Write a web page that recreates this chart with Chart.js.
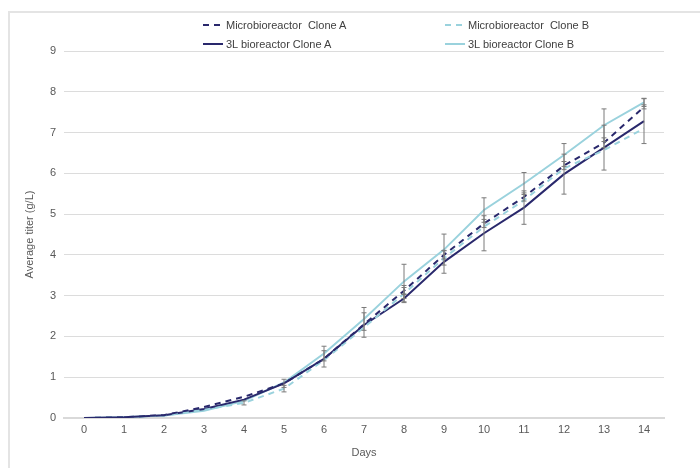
<!DOCTYPE html>
<html>
<head>
<meta charset="utf-8">
<script src="https://cdn.jsdelivr.net/npm/chart.js@4.4.0/dist/chart.umd.min.js"></script>
<style>
  body { margin: 0; background: #fff; font-family: "Liberation Sans", Arial, sans-serif; }
  #wrap { position: relative; width: 700px; height: 468px; overflow: hidden; }
  #frame { position: absolute; left: 8px; top: 11px; width: 720px; height: 480px;
           border-left: 2px solid #e4e4e4; border-top: 2px solid #e4e4e4; }
  #legend { position: absolute; left: 0; top: 0; }
  .item { position: absolute; display: flex; align-items: center; font-size: 11px; color: #404040; white-space: pre; }
  .item svg { margin-right: 3px; }
  canvas { position: absolute; left: 0; top: 0; }
</style>
</head>
<body>
<div id="wrap">
  <div id="frame"></div>
  <canvas id="myChart" width="700" height="468"></canvas>
  <div id="legend"></div>
</div>
<script>
const days = ['0','1','2','3','4','5','6','7','8','9','10','11','12','13','14'];
const microA = [0, 0.02, 0.07, 0.27, 0.52, 0.85, 1.45, 2.30, 3.12, 4.00, 4.77, 5.42, 6.19, 6.75, 7.63];
const microB = [0, 0.02, 0.06, 0.20, 0.37, 0.72, 1.42, 2.22, 3.05, 3.92, 4.69, 5.34, 6.12, 6.57, 7.10];
const l3A    = [0, 0.02, 0.07, 0.22, 0.45, 0.85, 1.45, 2.28, 2.93, 3.83, 4.53, 5.16, 5.98, 6.63, 7.28];
const l3B    = [0, 0.02, 0.06, 0.18, 0.42, 0.87, 1.58, 2.43, 3.35, 4.13, 5.10, 5.75, 6.45, 7.18, 7.74];
const microAErr = [null, null, null, null, null, null, null, null, 0.08, 0.1, 0.1, 0.1, 0.1, 0.12, 0.05];
const microBErr = [null, null, null, null, 0.05, 0.08, null, null, 0.2, null, null, null, null, null, null];
const l3AErr    = [null, null, null, null, null, 0.1, 0.2, 0.3, 0.1, 0.28, 0.43, 0.41, 0.49, 0.55, 0.55];
const l3BErr    = [null, null, null, null, null, null, 0.18, 0.28, 0.42, 0.38, 0.3, 0.27, 0.28, 0.4, 0.1];

const dark = '#29286c';
const light = '#9ad2dd';

const series = [
  {label: 'Microbioreactor  Clone A', data: microA, err: microAErr, color: dark, dash: [6, 5]},
  {label: 'Microbioreactor  Clone B', data: microB, err: microBErr, color: light, dash: [6, 5]},
  {label: '3L bioreactor Clone A', data: l3A, err: l3AErr, color: dark, dash: []},
  {label: '3L bioreactor Clone B', data: l3B, err: l3BErr, color: light, dash: []}
];

// legend (2 x 2 grid)
const legendPos = [[203, 25], [445, 25], [203, 44], [445, 44]];
const legendEl = document.getElementById('legend');
series.forEach((s, i) => {
  const d = document.createElement('div');
  d.className = 'item';
  d.style.left = legendPos[i][0] + 'px';
  d.style.top = (legendPos[i][1] - 7) + 'px';
  d.style.height = '14px';
  const dashAttr = s.dash.length ? 'stroke-dasharray="6 5"' : '';
  d.innerHTML = '<svg width="20" height="4"><line x1="0" y1="2" x2="20" y2="2" stroke="' + s.color +
    '" stroke-width="2" ' + dashAttr + '/></svg>';
  d.appendChild(document.createTextNode(s.label));
  legendEl.appendChild(d);
});

const errorBars = {
  id: 'errorBars',
  afterDatasetsDraw(chart) {
    const ctx = chart.ctx;
    const y = chart.scales.y;
    ctx.save();
    ctx.strokeStyle = '#7a7a7a';
    ctx.lineWidth = 1;
    chart.data.datasets.forEach((ds, di) => {
      const meta = chart.getDatasetMeta(di);
      ds.err.forEach((e, i) => {
        if (e == null) return;
        const px = meta.data[i].x;
        const top = y.getPixelForValue(ds.data[i] + e);
        const bot = y.getPixelForValue(ds.data[i] - e);
        ctx.beginPath();
        ctx.moveTo(px, top); ctx.lineTo(px, bot);
        ctx.moveTo(px - 2.5, top); ctx.lineTo(px + 2.5, top);
        ctx.moveTo(px - 2.5, bot); ctx.lineTo(px + 2.5, bot);
        ctx.stroke();
      });
    });
    ctx.restore();
  }
};

Chart.defaults.font.family = '"Liberation Sans", Arial, sans-serif';
Chart.defaults.font.size = 11;
Chart.defaults.color = '#595959';

const ctx = document.getElementById('myChart').getContext('2d');
new Chart(ctx, {
  type: 'line',
  data: {
    labels: days,
    datasets: series.map(s => ({
      label: s.label,
      data: s.data,
      err: s.err,
      borderColor: s.color,
      backgroundColor: s.color,
      borderDash: s.dash,
      borderWidth: 2,
      pointRadius: 0,
      tension: 0,
      fill: false
    }))
  },
  options: {
    responsive: false,
    animation: false,
    layout: {padding: {top: 51, right: 36, left: 0, bottom: 0}},
    plugins: {legend: {display: false}, tooltip: {enabled: false}},
    scales: {
      x: {
        offset: true,
        grid: {display: false, drawTicks: false},
        border: {color: '#d9d9d9', width: 2},
        ticks: {padding: 5, maxRotation: 0, color: '#595959'},
        title: {display: true, text: 'Days', color: '#595959', padding: {top: 0, bottom: 8}},
        afterFit(scale) { scale.height = 50; }
      },
      y: {
        min: 0, max: 9,
        ticks: {stepSize: 1, padding: 8, color: '#595959'},
        grid: {color: '#dcdcdc', lineWidth: 1, drawTicks: false},
        border: {display: false},
        title: {display: true, text: 'Average titer (g/L)', color: '#595959', padding: {top: 23, bottom: 0}},
        afterFit(scale) { scale.width = 64; }
      }
    }
  },
  plugins: [errorBars]
});
</script>
</body>
</html>
